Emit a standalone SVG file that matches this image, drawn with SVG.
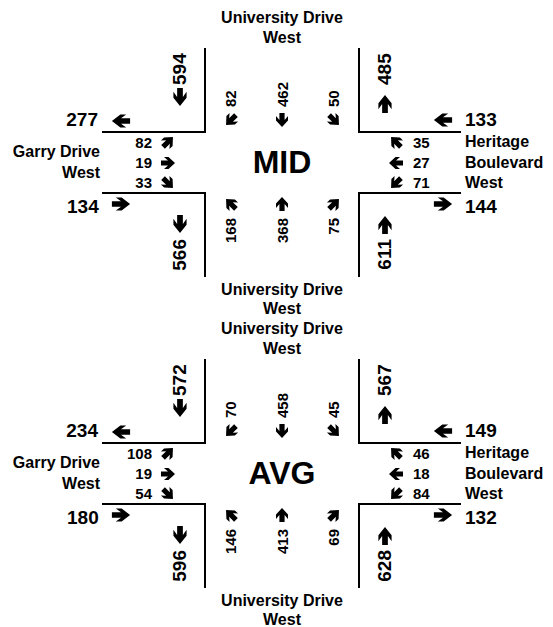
<svg xmlns="http://www.w3.org/2000/svg" width="553" height="627" viewBox="0 0 553 627">
<style>
text{font-family:"Liberation Sans",Arial,sans-serif;font-weight:bold;fill:#000}
.lb{font-size:16px}
.sm{font-size:15px}
.bg{font-size:19px}
.ct{font-size:32px}
.e{text-anchor:end}
.m{text-anchor:middle}
.ln{stroke:#000;stroke-width:2;fill:none}
</style>
<defs>
<path id="a" d="M7,0 L0.5,-6 L-4,-6 L0,-2.6 L-7,-2.6 L-7,2.6 L0,2.6 L-4,6 L0.5,6 Z" fill="#000"/>
<g id="intersection">
<g id="curbs" class="ln">
<path d="M205,48 V132 H102"/>
<path d="M359,48 V132 H461"/>
<path d="M102,193 H205 V277"/>
<path d="M461,193 H359 V277"/>
</g>
<g id="connectors">
<use href="#a" transform="translate(180,97) rotate(90) scale(1.3,1.1)"/>
<use href="#a" transform="translate(385,104) rotate(-90) scale(1.3,1.1)"/>
<use href="#a" transform="translate(121,121) rotate(180) scale(1.3,1.1)"/>
<use href="#a" transform="translate(443,120) rotate(180) scale(1.3,1.1)"/>
<use href="#a" transform="translate(121,204) scale(1.3,1.1)"/>
<use href="#a" transform="translate(443,204) scale(1.3,1.1)"/>
<use href="#a" transform="translate(180,224) rotate(90) scale(1.3,1.1)"/>
<use href="#a" transform="translate(385,225) rotate(-90) scale(1.3,1.1)"/>
<use href="#a" transform="translate(231,120) rotate(135)"/>
<use href="#a" transform="translate(282,120) rotate(90)"/>
<use href="#a" transform="translate(334,120) rotate(45)"/>
<use href="#a" transform="translate(168,142) rotate(-45)"/>
<use href="#a" transform="translate(168,163)"/>
<use href="#a" transform="translate(168,183) rotate(45)"/>
<use href="#a" transform="translate(396,142) rotate(-135)"/>
<use href="#a" transform="translate(396,163) rotate(180)"/>
<use href="#a" transform="translate(396,183) rotate(135)"/>
<use href="#a" transform="translate(231,204) rotate(-135)"/>
<use href="#a" transform="translate(282,204) rotate(-90)"/>
<use href="#a" transform="translate(334,204) rotate(-45)"/>
</g>
<g id="street-labels" class="lb">
<text class="m" x="282" y="23">University Drive</text>
<text class="m" x="282" y="43">West</text>
<text class="e" x="100" y="157">Garry Drive</text>
<text class="e" x="100" y="178">West</text>
<text x="465" y="147">Heritage</text>
<text x="465" y="168">Boulevard</text>
<text x="465" y="188">West</text>
<text class="m" x="282" y="295">University Drive</text>
<text class="m" x="282" y="314">West</text>
</g>
</g>
</defs>

<g id="mid">
<use href="#intersection"/>
<g id="mid-north" class="sm">
<text class="bg" transform="translate(186,85) rotate(-90)">594</text>
<text class="bg" transform="translate(391,85) rotate(-90)">485</text>
<text transform="translate(236,107) rotate(-90)">82</text>
<text transform="translate(288,107) rotate(-90)">462</text>
<text transform="translate(339,107) rotate(-90)">50</text>
</g>
<g id="mid-west" class="sm">
<text class="bg e" x="98" y="126">277</text>
<text class="bg" x="67" y="213">134</text>
<text class="e" x="152" y="148">82</text>
<text class="e" x="152" y="168">19</text>
<text class="e" x="152" y="188">33</text>
</g>
<g id="mid-east" class="sm">
<text class="bg" x="465" y="126">133</text>
<text class="bg" x="465" y="213">144</text>
<text x="413" y="148">35</text>
<text x="413" y="168">27</text>
<text x="413" y="188">71</text>
</g>
<g id="mid-south" class="sm">
<text class="e" transform="translate(236,218) rotate(-90)">168</text>
<text class="e" transform="translate(288,218) rotate(-90)">368</text>
<text class="e" transform="translate(339,218) rotate(-90)">75</text>
<text class="bg e" transform="translate(186,239) rotate(-90)">566</text>
<text class="bg e" transform="translate(391,239) rotate(-90)">611</text>
</g>
<text id="mid-title" class="ct m" x="282" y="173">MID</text>
</g>

<g id="avg" transform="translate(0,311)">
<use href="#intersection"/>
<g id="avg-north" class="sm">
<text class="bg" transform="translate(186,85) rotate(-90)">572</text>
<text class="bg" transform="translate(391,85) rotate(-90)">567</text>
<text transform="translate(236,107) rotate(-90)">70</text>
<text transform="translate(288,107) rotate(-90)">458</text>
<text transform="translate(339,107) rotate(-90)">45</text>
</g>
<g id="avg-west" class="sm">
<text class="bg e" x="98" y="126">234</text>
<text class="bg" x="67" y="213">180</text>
<text class="e" x="152" y="148">108</text>
<text class="e" x="152" y="168">19</text>
<text class="e" x="152" y="188">54</text>
</g>
<g id="avg-east" class="sm">
<text class="bg" x="465" y="126">149</text>
<text class="bg" x="465" y="213">132</text>
<text x="413" y="148">46</text>
<text x="413" y="168">18</text>
<text x="413" y="188">84</text>
</g>
<g id="avg-south" class="sm">
<text class="e" transform="translate(236,218) rotate(-90)">146</text>
<text class="e" transform="translate(288,218) rotate(-90)">413</text>
<text class="e" transform="translate(339,218) rotate(-90)">69</text>
<text class="bg e" transform="translate(186,239) rotate(-90)">596</text>
<text class="bg e" transform="translate(391,239) rotate(-90)">628</text>
</g>
<text id="avg-title" class="ct m" x="282" y="173">AVG</text>
</g>
</svg>
